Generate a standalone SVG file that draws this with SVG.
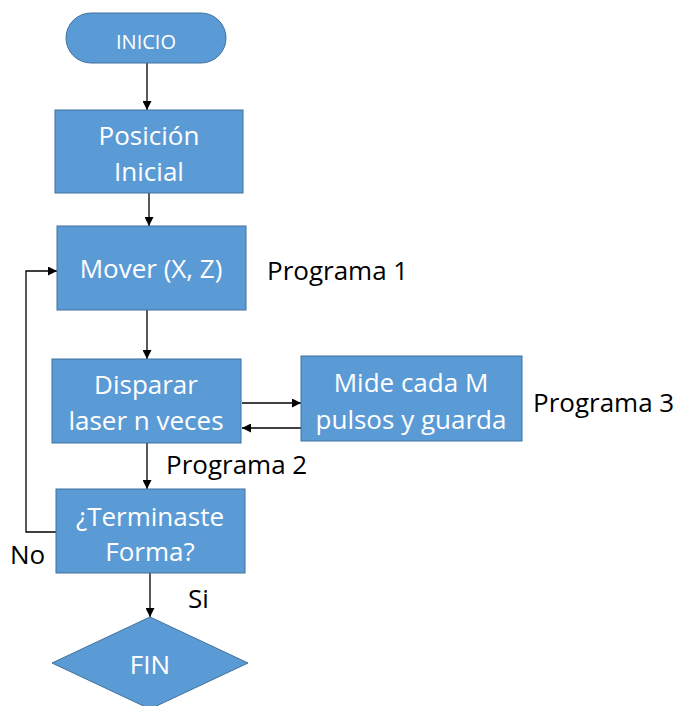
<svg xmlns="http://www.w3.org/2000/svg" width="674" height="706" viewBox="0 0 674 706">
  <style>
    .shape { fill: #5B9BD5; stroke: #41719C; stroke-width: 1; }
    .label { fill: #FFFFFF; font-family: "Open Sans", Lato, sans-serif; font-size: 26px; text-anchor: middle; }
    .note { fill: #000000; font-family: "Open Sans", Lato, sans-serif; font-size: 26px; }
    .wire { fill: none; stroke: #000000; stroke-width: 1.3; }
  </style>
  <defs>
    <marker id="arrow" viewBox="0 0 10 10" refX="10" refY="5" markerWidth="9" markerHeight="9" markerUnits="userSpaceOnUse" orient="auto">
      <path d="M0,0 L10,5 L0,10 z" fill="#000000"/>
    </marker>
  </defs>
  <rect width="674" height="706" fill="#FFFFFF"/>

  <g id="connectors">
    <line class="wire" x1="147" y1="63" x2="147" y2="110" marker-end="url(#arrow)"/>
    <line class="wire" x1="149" y1="193" x2="149" y2="226" marker-end="url(#arrow)"/>
    <line class="wire" x1="147" y1="310" x2="147" y2="359" marker-end="url(#arrow)"/>
    <line class="wire" x1="242" y1="403" x2="301" y2="403" marker-end="url(#arrow)"/>
    <line class="wire" x1="301" y1="428" x2="242" y2="428" marker-end="url(#arrow)"/>
    <line class="wire" x1="147" y1="443" x2="147" y2="489" marker-end="url(#arrow)"/>
    <polyline class="wire" points="56,532 26,532 26,271 57,271" marker-end="url(#arrow)"/>
    <line class="wire" x1="150" y1="573" x2="150" y2="617" marker-end="url(#arrow)"/>
  </g>

  <g id="inicio">
    <rect class="shape" x="66" y="13" width="160" height="50" rx="25" ry="25"/>
    <text class="label" x="146" y="49" style="font-size:20px">INICIO</text>
  </g>

  <g id="posicion-inicial">
    <rect class="shape" x="55" y="110" width="188" height="83"/>
    <text class="label" x="149" y="145">Posición</text>
    <text class="label" x="149" y="181">Inicial</text>
  </g>

  <g id="mover">
    <rect class="shape" x="57" y="226" width="189" height="84"/>
    <text class="label" x="151" y="278">Mover (X, Z)</text>
  </g>

  <g id="disparar">
    <rect class="shape" x="52" y="359" width="189" height="84"/>
    <text class="label" x="146" y="394">Disparar</text>
    <text class="label" x="146" y="430">laser n veces</text>
  </g>

  <g id="mide">
    <rect class="shape" x="301" y="356" width="221" height="85"/>
    <text class="label" x="411" y="392">Mide cada M</text>
    <text class="label" x="411" y="429">pulsos y guarda</text>
  </g>

  <g id="terminaste">
    <rect class="shape" x="56" y="489" width="189" height="84"/>
    <text class="label" x="150" y="526">¿Terminaste</text>
    <text class="label" x="150" y="561">Forma?</text>
  </g>

  <g id="fin">
    <polygon class="shape" points="150,617 248,663 150,709 52,663"/>
    <text class="label" x="150" y="674">FIN</text>
  </g>

  <g id="notes">
    <text class="note" x="267" y="280">Programa 1</text>
    <text class="note" x="166" y="474">Programa 2</text>
    <text class="note" x="533" y="412">Programa 3</text>
    <text class="note" x="10" y="564">No</text>
    <text class="note" x="188" y="608">Si</text>
  </g>
</svg>
